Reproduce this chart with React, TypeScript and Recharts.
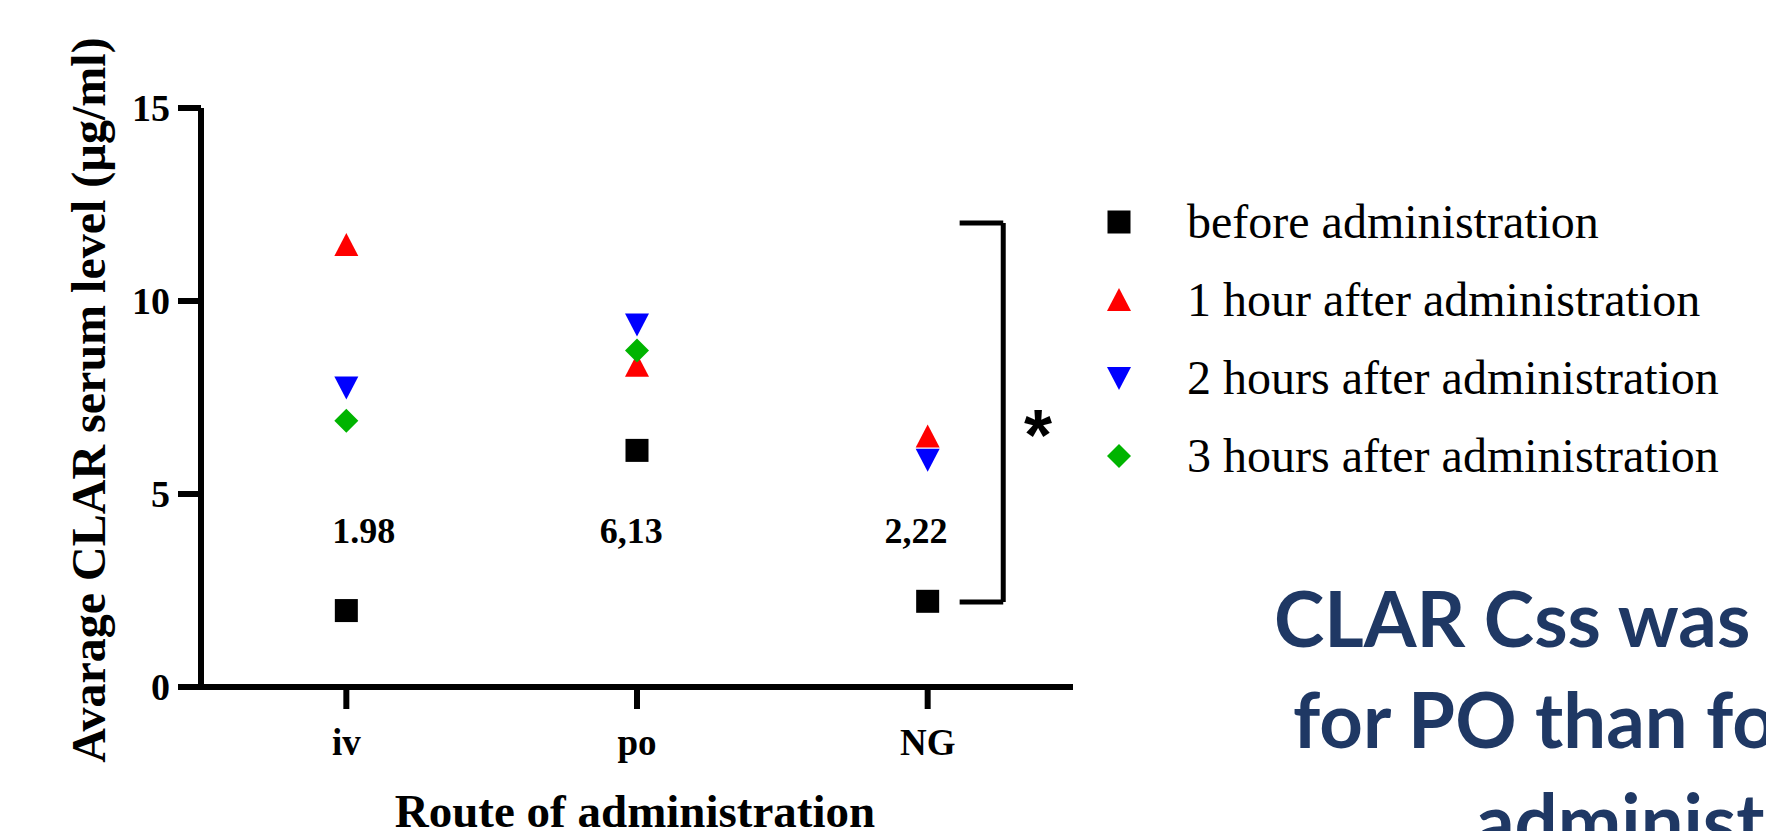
import React from "react";
import {
  ScatterChart, Scatter, XAxis, YAxis, ReferenceLine,
} from "recharts";

const SERIF = "'Liberation Serif', 'Times New Roman', serif";
const SANS = "Lato, 'Open Sans', sans-serif";

// route of administration -> x position 1,2,3
const routes = ["iv", "po", "NG"];
const routeX = [1, 2, 3];

// average CLAR serum level (µg/ml)
const beforeAdmin = [1.98, 6.13, 2.22];
const oneHour = [11.45, 8.32, 6.49];
const twoHours = [7.76, 9.39, 5.89];
const threeHours: (number | null)[] = [6.9, 8.72, null];

// mean labels printed above the "before" squares
const valueLabels = ["1.98", "6,13", "2,22"];
const valueLabelX = [1.06, 1.98, 2.96];
const valueLabelY = 4.07;

const yTicks = [0, 5, 10, 15];

const seriesNames = [
  "before administration",
  "1 hour after administration",
  "2 hours after administration",
  "3 hours after administration",
];
const seriesColors = ["#000000", "#ff0000", "#0000ff", "#00b400"];
const seriesKinds = ["square", "up", "down", "diamond"];

const noteLines = ["CLAR Css was", "for PO than for", "administration"];

const toPoints = (vals: (number | null)[]) =>
  vals
    .map((v, i) => (v == null ? null : { x: routeX[i], y: v }))
    .filter(Boolean) as { x: number; y: number }[];

const labelPoints = valueLabels.map((t, i) => ({ x: valueLabelX[i], y: valueLabelY, text: t }));

// significance bracket between iv and NG (in data space)
const bracketX0 = 3.11;
const bracketX1 = 3.26;
const bracketTop = 12.02;
const bracketBottom = 2.2;
const starPoint = [{ x: 3.38, y: 6.92 }];

function Marker({ kind, cx, cy, fill }: any) {
  if (cx == null || cy == null) return null;
  if (kind === "square")
    return <rect x={cx - 11.5} y={cy - 11.5} width={23} height={23} fill={fill} />;
  if (kind === "up")
    return <polygon points={`${cx},${cy - 12} ${cx + 12},${cy + 11} ${cx - 12},${cy + 11}`} fill={fill} />;
  if (kind === "down")
    return <polygon points={`${cx},${cy + 12} ${cx + 12},${cy - 11} ${cx - 12},${cy - 11}`} fill={fill} />;
  return <polygon points={`${cx},${cy - 12} ${cx + 12},${cy} ${cx},${cy + 12} ${cx - 12},${cy}`} fill={fill} />;
}

const YTick = ({ x, y, payload }: any) => (
  <text x={x} y={y + 13} fontSize={38} fontWeight="bold" fontFamily={SERIF} textAnchor="end" fill="#000">
    {payload.value}
  </text>
);

const XTick = ({ x, y, payload }: any) => (
  <text x={x} y={y + 44} fontSize={37} fontWeight="bold" fontFamily={SERIF} textAnchor="middle" fill="#000">
    {routes[routeX.indexOf(payload.value)]}
  </text>
);

export default function App() {
  const series = [beforeAdmin, oneHour, twoHours, threeHours];
  const seg = { stroke: "#000", strokeWidth: 5, ifOverflow: "visible" as const };
  return (
    <div style={{ position: "absolute", left: 0, top: 0, width: 1766, height: 831, background: "#fff", overflow: "hidden" }}>
      <ScatterChart width={1766} height={831} margin={{ top: 108, right: 693, bottom: 84, left: 141 }}>
        <XAxis
          type="number"
          dataKey="x"
          domain={[0.5, 3.5]}
          ticks={routeX}
          allowDataOverflow
          height={60}
          axisLine={{ stroke: "#000", strokeWidth: 6 }}
          tickLine={{ stroke: "#000", strokeWidth: 6 }}
          tickSize={22}
          tickMargin={2}
          tick={<XTick />}
        />
        <YAxis
          type="number"
          dataKey="y"
          domain={[0, 15]}
          ticks={yTicks}
          width={60}
          axisLine={{ stroke: "#000", strokeWidth: 6 }}
          tickLine={{ stroke: "#000", strokeWidth: 6 }}
          tickSize={23}
          tickMargin={8}
          tick={<YTick />}
        />
        {series.map((vals, i) => (
          <Scatter
            key={seriesNames[i]}
            name={seriesNames[i]}
            data={toPoints(vals)}
            fill={seriesColors[i]}
            isAnimationActive={false}
            shape={(p: any) => <Marker kind={seriesKinds[i]} cx={p.cx} cy={p.cy} fill={seriesColors[i]} />}
          />
        ))}
        <Scatter
          name="labels"
          legendType="none"
          data={labelPoints}
          isAnimationActive={false}
          shape={(p: any) => (
            <text x={p.cx} y={p.cy + 13} fontSize={36} fontWeight="bold" fontFamily={SERIF} textAnchor="middle" fill="#000">
              {p.payload.text}
            </text>
          )}
        />
        <ReferenceLine segment={[{ x: bracketX0, y: bracketTop }, { x: bracketX1, y: bracketTop }]} {...seg} />
        <ReferenceLine segment={[{ x: bracketX1, y: bracketTop }, { x: bracketX1, y: bracketBottom }]} {...seg} />
        <ReferenceLine segment={[{ x: bracketX0, y: bracketBottom }, { x: bracketX1, y: bracketBottom }]} {...seg} />
        <Scatter
          name="star"
          legendType="none"
          data={starPoint}
          isAnimationActive={false}
          shape={(p: any) => (
            <text x={p.cx} y={p.cy + 40} fontSize={72} fontWeight="bold" fontFamily="'Liberation Sans', Arial, sans-serif" textAnchor="middle" fill="#000">*</text>
          )}
        />
      </ScatterChart>
      <svg width={1766} height={831} style={{ position: "absolute", left: 0, top: 0, pointerEvents: "none" }}>
        <text x={635} y={827} fontSize={47} fontWeight="bold" fontFamily={SERIF} textAnchor="middle" fill="#000">
          Route of administration
        </text>
        <text transform="translate(105,400) rotate(-90)" fontSize={48} fontWeight="bold" fontFamily={SERIF} textAnchor="middle" fill="#000">
          Avarage CLAR serum level (µg/ml)
        </text>
        {seriesNames.map((name, i) => {
          const cy = 222 + i * 78;
          return (
            <g key={name}>
              <Marker kind={seriesKinds[i]} cx={1119} cy={cy} fill={seriesColors[i]} />
              <text x={1187} y={cy + 16} fontSize={48} fontFamily={SERIF} fill="#000">{name}</text>
            </g>
          );
        })}
        {noteLines.map((line, i) => (
          <text
            key={line}
            x={[1274, 1293, 1476][i]}
            y={[647, 748, 849][i]}
            fontSize={76}
            fontWeight="bold"
            fontFamily={SANS}
            fill="#1f3864"
          >
            {line}
          </text>
        ))}
      </svg>
    </div>
  );
}
